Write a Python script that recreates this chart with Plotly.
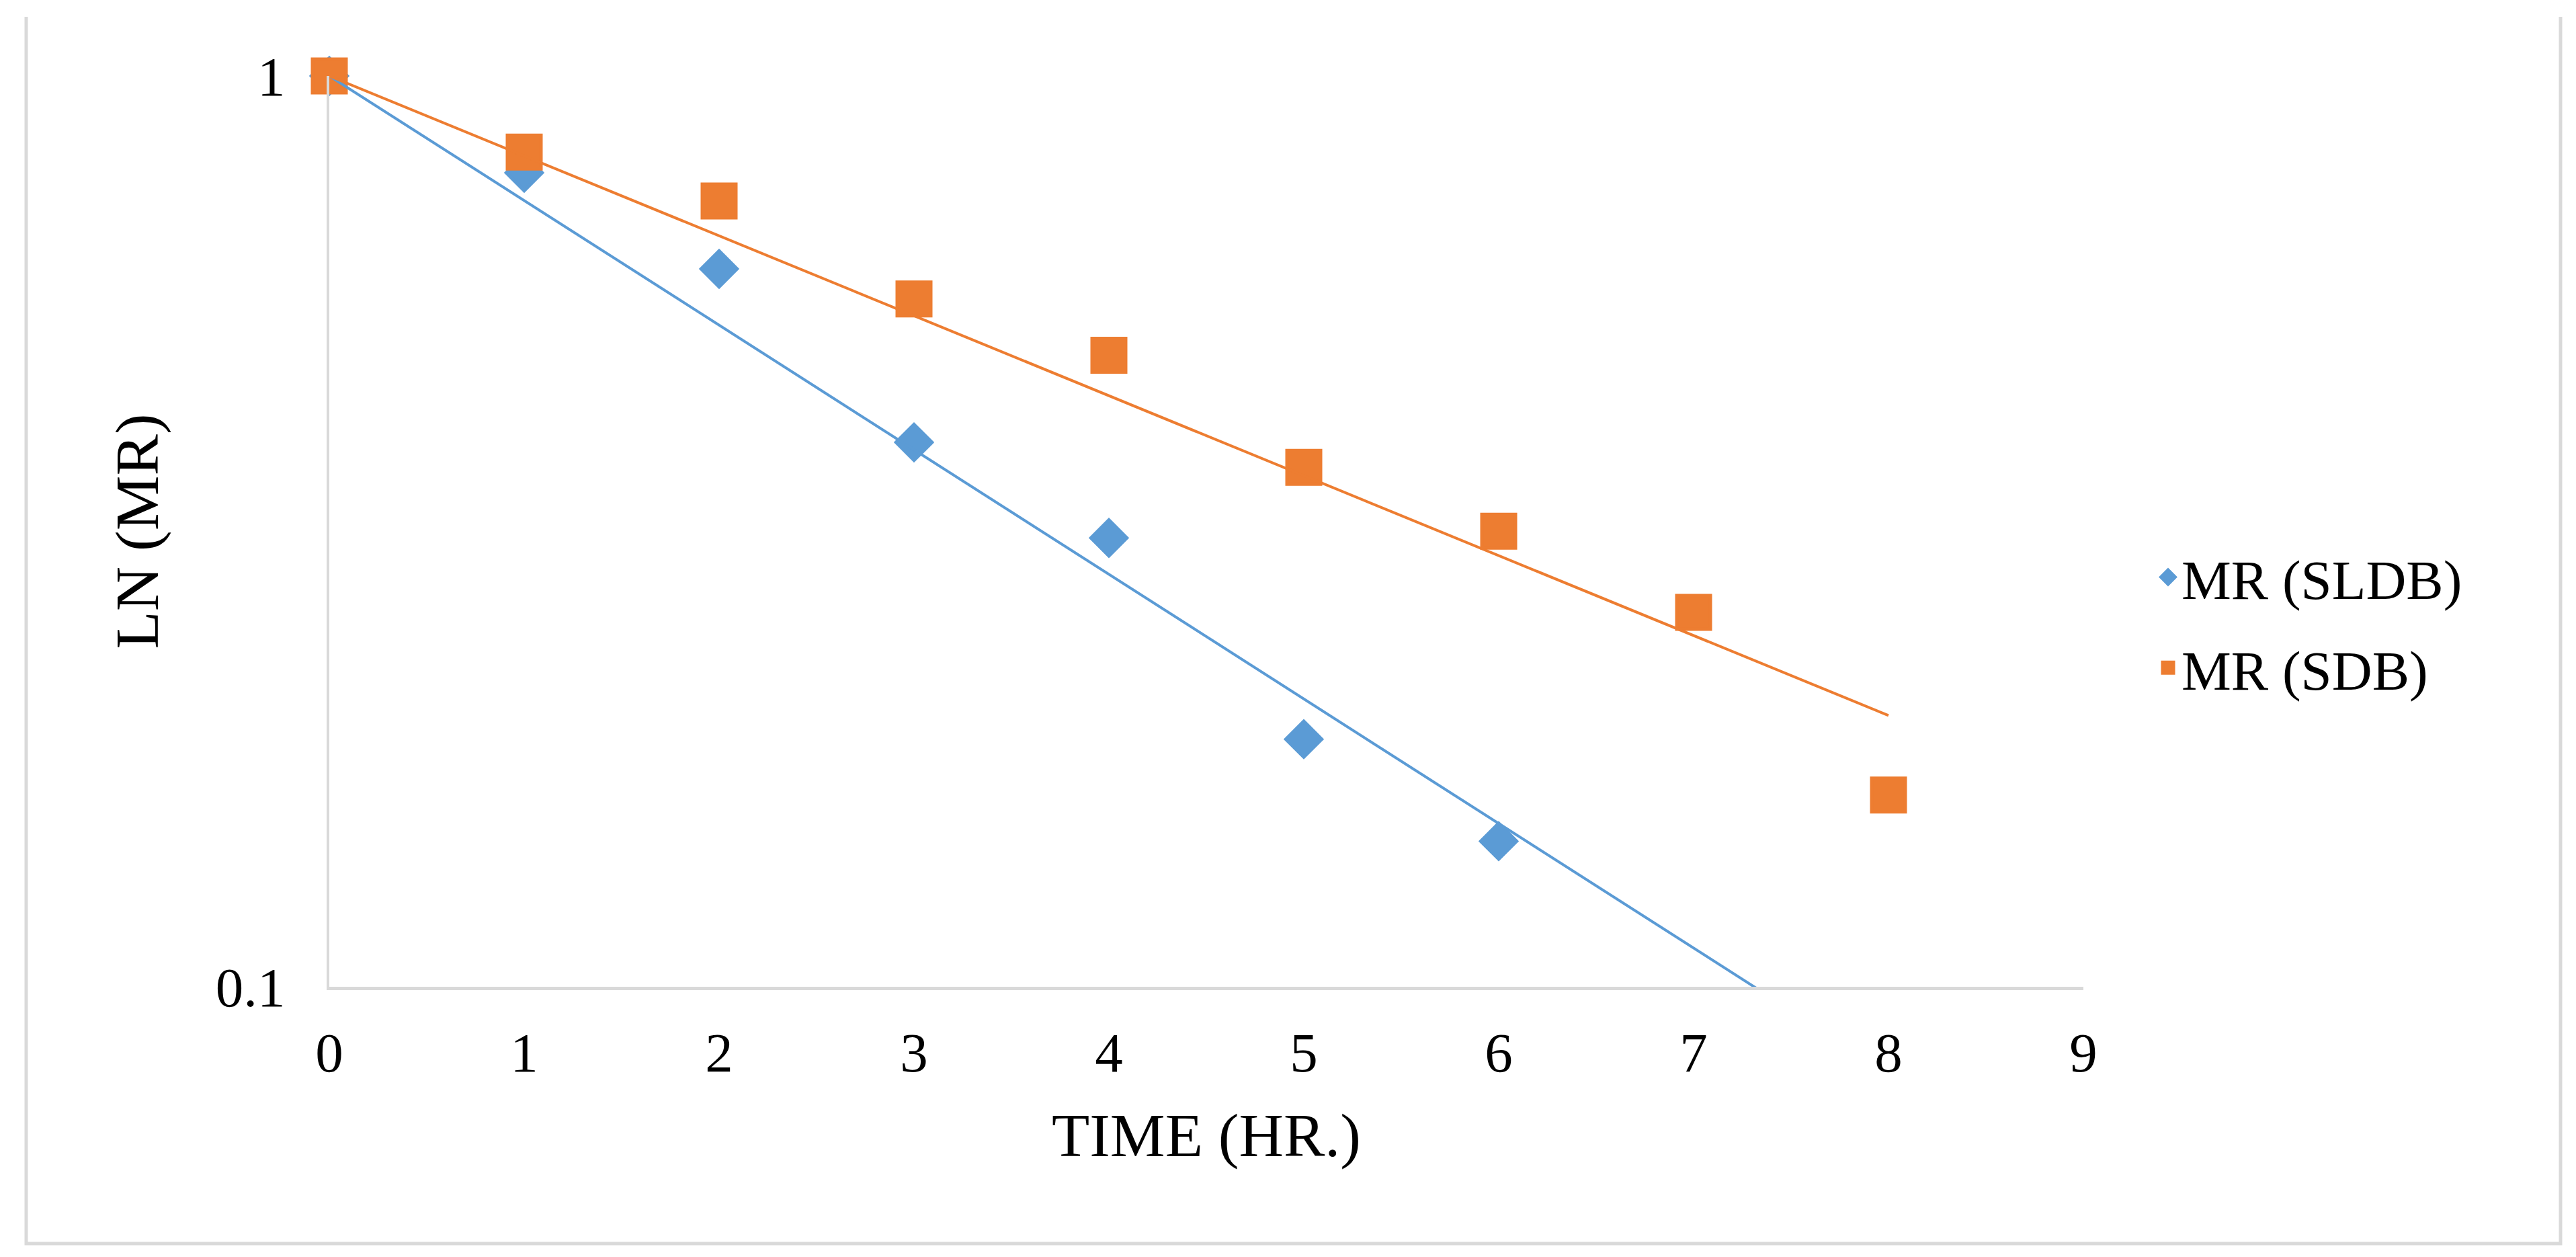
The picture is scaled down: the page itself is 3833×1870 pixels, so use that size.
import numpy as np
import plotly.graph_objects as go

# ---- data ----
time_sldb = [0, 1, 2, 3, 4, 5, 6]
mr_sldb = [1.0, 0.783, 0.614, 0.396, 0.311, 0.187, 0.1445]

time_sdb = [0, 1, 2, 3, 4, 5, 6, 7, 8]
mr_sdb = [1.0, 0.825, 0.729, 0.569, 0.4935, 0.3718, 0.3164, 0.2577, 0.1624]

x_ticks = [0, 1, 2, 3, 4, 5, 6, 7, 8, 9]
y_ticks = [0.1, 1]
y_tick_text = ["0.1", "1"]

name_sldb = "MR (SLDB)"
name_sdb = "MR (SDB)"
x_title = "TIME (HR.)"
y_title = "LN (MR)"

BLUE = "#5B9BD5"
ORANGE = "#ED7D31"
GRID = "#D9D9D9"
FONT = "Liberation Serif"


def exp_trend(xs, ys, x_end):
    """Excel-style exponential trendline with intercept fixed at 1."""
    xs = np.asarray(xs, float)
    ly = np.log(np.asarray(ys, float))
    b = np.sum(xs * ly) / np.sum(xs * xs)
    xt = np.linspace(0, x_end, 50)
    return xt, np.exp(b * xt)


x_end = max(time_sdb)
tx_b, ty_b = exp_trend(time_sldb, mr_sldb, x_end)
tx_o, ty_o = exp_trend(time_sdb, mr_sdb, x_end)

# page offset of the browser's default body margin
OFF = 8
W, H = 3833 - OFF, 1870 - OFF
ML, MT = 490 - OFF, 113 - OFF
PLOT_R, PLOT_B = 3100 - OFF, 1468 - OFF
MR_ = W - PLOT_R
MB = H - PLOT_B
PW = PLOT_R - ML
PH = PLOT_B - MT

fig = go.Figure()
fig.add_trace(go.Scatter(
    x=time_sldb, y=mr_sldb, mode="markers", name=name_sldb,
    legendgroup="a",
    marker=dict(symbol="diamond", size=41, color=BLUE,
                line=dict(width=5, color=BLUE)),
    cliponaxis=False,
))
fig.add_trace(go.Scatter(
    x=time_sdb, y=mr_sdb, mode="markers", name=name_sdb,
    legendgroup="b",
    marker=dict(symbol="square", size=50, color=ORANGE,
                line=dict(width=5, color=ORANGE)),
    cliponaxis=False,
))
fig.add_trace(go.Scatter(
    x=tx_b, y=ty_b, mode="lines", showlegend=False,
    line=dict(color=BLUE, width=4), hoverinfo="skip",
))
fig.add_trace(go.Scatter(
    x=tx_o, y=ty_o, mode="lines", showlegend=False,
    line=dict(color=ORANGE, width=4), hoverinfo="skip",
))


def px_x(p):
    return (p - OFF - ML) / PW


def px_y(p):
    return (PLOT_B - (p - OFF)) / PH


# outer chart border (left, bottom, right)
fig.add_shape(
    type="path", xref="paper", yref="paper",
    path=(f"M {px_x(39)},{px_y(25)} L {px_x(39)},{px_y(1850)} "
          f"L {px_x(3810)},{px_y(1850)} L {px_x(3810)},{px_y(25)}"),
    line=dict(color=GRID, width=5), layer="below",
)

fig.update_layout(
    width=W, height=H,
    margin=dict(l=ML, r=MR_, t=MT, b=MB, autoexpand=False),
    paper_bgcolor="white", plot_bgcolor="white",
    font=dict(family=FONT, color="black", size=83),
    showlegend=True,
    legend=dict(
        x=px_x(3206), xanchor="left",
        y=px_y(926), yanchor="middle",
        font=dict(family=FONT, size=83, color="black"),
        bgcolor="rgba(0,0,0,0)",
        tracegroupgap=24,
        traceorder="grouped",
        itemwidth=30,
    ),
    xaxis=dict(
        range=[0, 9], tickmode="array", tickvals=x_ticks,
        showgrid=False, zeroline=False,
        showline=True, linecolor=GRID, linewidth=5,
        ticks="", ticklabelstandoff=21,
        tickfont=dict(family=FONT, size=83, color="black"),
        title=dict(text=x_title, standoff=47,
                   font=dict(family=FONT, size=92, color="black")),
        automargin=False,
    ),
    yaxis=dict(
        type="log", range=[-1, 0],
        tickmode="array", tickvals=y_ticks, ticktext=y_tick_text,
        showgrid=True, gridcolor=GRID, gridwidth=5,
        zeroline=False,
        showline=True, linecolor=GRID, linewidth=4,
        ticks="", ticklabelstandoff=45,
        tickfont=dict(family=FONT, size=83, color="black"),
        title=dict(text=y_title, standoff=55,
                   font=dict(family=FONT, size=92, color="black")),
        automargin=False,
    ),
)

fig.write_html("out.html")
